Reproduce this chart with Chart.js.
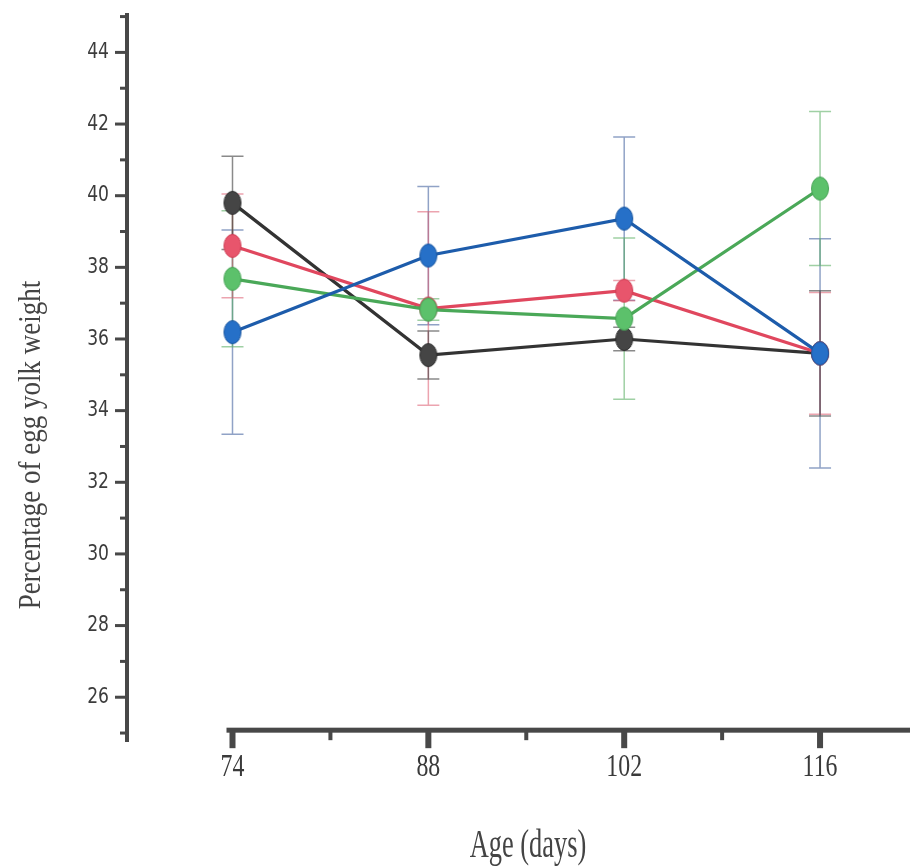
<!DOCTYPE html>
<html>
<head>
<meta charset="utf-8">
<script src="https://cdn.jsdelivr.net/npm/chart.js@4.4.1/dist/chart.umd.min.js"></script>
<style>
  html, body { margin: 0; padding: 0; background: #fff; overflow: hidden; }
  #wrap { width: 910px; height: 868px; }
  #yolk_chart { display: block; }
</style>
</head>
<body>
<div id="wrap"><canvas id="yolk_chart" width="910" height="868"></canvas></div>
<script>
// age in days
const ages = [74, 88, 102, 116];

// mean percentage of egg yolk weight, one array per group
const blackMeans = [39.8, 35.55, 36.0, 35.6];
const redMeans = [38.6, 36.85, 37.35, 35.6];
const greenMeans = [37.68, 36.82, 36.57, 40.2];
const blueMeans = [36.19, 38.33, 39.36, 35.6];

// error bar half widths
const blackErr = [1.3, 0.67, 0.33, 1.75];
const redErr = [1.45, 2.7, 0.28, 1.7];
const greenErr = [1.9, 0.3, 2.25, 2.15];
const blueErr = [2.85, 1.93, 2.28, 3.2];

// axis ticks
const yMajorTicks = [26, 28, 30, 32, 34, 36, 38, 40, 42, 44];
const yMinorTicks = [25, 27, 29, 31, 33, 35, 37, 39, 41, 43, 45];
const xMajorTicks = [74, 88, 102, 116];
const xMinorTicks = [81, 95, 109];

const xTitle = 'Age (days)';
const yTitle = 'Percentage of egg yolk weight';

// the scan is squeezed sideways, so the text is drawn narrow
function drawNarrow(ctx, text, px, py, font, squeeze, align) {
    ctx.save();
    ctx.translate(px, py);
    ctx.scale(squeeze, 1);
    ctx.font = font;
    ctx.textAlign = align;
    ctx.textBaseline = 'middle';
    ctx.fillText(text, 0, 0);
    ctx.restore();
}

// tall oval marker
function makeMarker(color, edge) {
    const c = document.createElement('canvas');
    c.width = 20;
    c.height = 26;
    const g = c.getContext('2d');
    g.fillStyle = color;
    g.strokeStyle = edge;
    g.lineWidth = 1;
    g.beginPath();
    g.ellipse(10, 13, 8.5, 11.5, 0, 0, Math.PI * 2);
    g.fill();
    g.stroke();
    return c;
}

function toPoints(means) {
    return ages.map((a, i) => ({ x: a, y: means[i] }));
}

const axesPlugin = {
    id: 'axes',
    beforeDatasetsDraw(chart) {
        const { ctx, chartArea, scales: { x, y } } = chart;
        ctx.save();
        ctx.fillStyle = '#484848';

        // y axis
        const ax = chartArea.left - 1;
        ctx.fillRect(ax - 2, chartArea.top, 4, chartArea.bottom - chartArea.top);
        yMinorTicks.forEach(v => {
            ctx.fillRect(ax - 7, y.getPixelForValue(v) - 1.5, 6, 3);
        });
        yMajorTicks.forEach(v => {
            ctx.fillRect(ax - 12, y.getPixelForValue(v) - 1.5, 11, 3);
        });
        ctx.fillStyle = '#3c3c3c';
        yMajorTicks.forEach(v => {
            drawNarrow(ctx, String(v), ax - 18, y.getPixelForValue(v), '22px "DejaVu Sans"', 0.78, 'right');
        });

        // x axis, starts at the first age
        ctx.fillStyle = '#484848';
        const ay = y.getPixelForValue(25.08);
        const x0 = x.getPixelForValue(ages[0]) - 6;
        ctx.fillRect(x0, ay - 2.5, chartArea.right - x0, 5);
        xMinorTicks.forEach(v => {
            ctx.fillRect(x.getPixelForValue(v) - 2, ay, 4, 10);
        });
        xMajorTicks.forEach(v => {
            ctx.fillRect(x.getPixelForValue(v) - 3, ay, 6, 18);
        });
        ctx.fillStyle = '#3a3a3a';
        xMajorTicks.forEach(v => {
            drawNarrow(ctx, String(v), x.getPixelForValue(v), ay + 38, '31px "Liberation Serif"', 0.77, 'center');
        });

        // titles
        ctx.fillStyle = '#444';
        drawNarrow(ctx, xTitle, 528, 846, '40px "Liberation Serif"', 0.66, 'center');
        ctx.save();
        ctx.translate(31, 445);
        ctx.rotate(-Math.PI / 2);
        ctx.scale(1, 1.2);
        ctx.font = '27px "Liberation Serif"';
        ctx.textAlign = 'center';
        ctx.textBaseline = 'middle';
        ctx.fillText(yTitle, 0, 0);
        ctx.restore();

        // error bars behind the lines
        chart.data.datasets.forEach(ds => {
            ctx.strokeStyle = ds.errColor;
            ctx.lineWidth = 1.5;
            ds.data.forEach((p, i) => {
                const px = x.getPixelForValue(p.x);
                const top = y.getPixelForValue(p.y + ds.errors[i]);
                const bot = y.getPixelForValue(p.y - ds.errors[i]);
                ctx.beginPath();
                ctx.moveTo(px, top);
                ctx.lineTo(px, bot);
                ctx.moveTo(px - 11, top);
                ctx.lineTo(px + 11, top);
                ctx.moveTo(px - 11, bot);
                ctx.lineTo(px + 11, bot);
                ctx.stroke();
            });
        });
        ctx.restore();
    }
};

function series(label, means, errors, line, fill, edge, errColor) {
    return {
        label: label,
        data: toPoints(means),
        errors: errors,
        errColor: errColor,
        borderColor: line,
        backgroundColor: fill,
        borderWidth: 3.2,
        pointStyle: makeMarker(fill, edge),
        pointRadius: 12,
        tension: 0,
        fill: false,
        clip: false
    };
}

const chartConfig = {
    type: 'line',
    data: {
        datasets: [
            series('Blue', blueMeans, blueErr, '#1d5cab', '#2670c8', '#1b57a0', 'rgba(70,100,160,0.6)'),
            series('Green', greenMeans, greenErr, '#4aa858', '#5cc16b', '#47a356', 'rgba(80,170,90,0.55)'),
            series('Red', redMeans, redErr, '#e0475e', '#e8556c', '#cf3f55', 'rgba(220,90,110,0.55)'),
            series('Black', blackMeans, blackErr, '#333333', '#454545', '#303030', 'rgba(60,60,60,0.6)')
        ]
    },
    options: {
        responsive: false,
        animation: false,
        devicePixelRatio: 1,
        layout: { autoPadding: false, padding: { left: 128, top: 13, right: 0, bottom: 126 } },
        scales: {
            x: { type: 'linear', min: 66.53, max: 122.43, display: false },
            y: { type: 'linear', min: 24.75, max: 45.1, display: false }
        },
        plugins: {
            legend: { display: false },
            tooltip: { enabled: false }
        }
    },
    plugins: [axesPlugin]
};

new Chart(document.getElementById('yolk_chart'), chartConfig);
</script>
</body>
</html>
